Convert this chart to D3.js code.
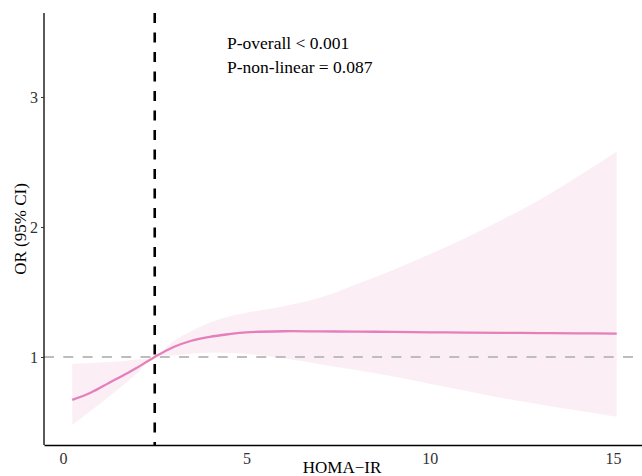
<!DOCTYPE html>
<html>
<head>
<meta charset="utf-8">
<script src="https://cdn.jsdelivr.net/npm/d3@7"></script>
<style>
  body { margin: 0; background: #fff; }
  svg { display: block; }
  text { font-family: "Liberation Serif", "DejaVu Serif", serif; }
</style>
</head>
<body>
<script>
// HOMA-IR values and the fitted odds ratio with its 95% CI
var homa  = [0.25, 0.75, 1.25, 1.75, 2.0, 2.5, 3.0, 3.5, 4.0, 4.5, 5.0, 6.0, 7.0, 8.0, 9.0, 10.0, 11.0, 12.0, 13.0, 14.0, 15.1];
var orFit = [0.67, 0.725, 0.80, 0.875, 0.915, 1.0, 1.075, 1.125, 1.155, 1.175, 1.19, 1.198, 1.197, 1.195, 1.193, 1.19, 1.188, 1.186, 1.184, 1.182, 1.18];
var ciLow = [0.477, 0.585, 0.695, 0.81, 0.87, 1.0, 1.012, 1.025, 1.032, 1.03, 1.024, 0.99, 0.945, 0.9, 0.85, 0.795, 0.738, 0.683, 0.635, 0.59, 0.54];
var ciHigh = [0.946, 0.953, 0.962, 0.972, 0.98, 1.0, 1.12, 1.2, 1.265, 1.31, 1.34, 1.39, 1.455, 1.56, 1.67, 1.79, 1.92, 2.06, 2.21, 2.38, 2.58];
var refX = 2.5;
var xTicks = [0, 5, 10, 15];
var yTicks = [1, 2, 3];
var pTexts = ["P-overall < 0.001", "P-non-linear = 0.087"];

var width = 642, height = 476;
var plotLeft = 44, plotTop = 13, plotBottom = 445;

var svg = d3.select("body").append("svg").attr("width", width).attr("height", height);

var x = d3.scaleLinear().domain([-0.52, 15.79]).range([plotLeft, width]);
var y = d3.scaleLinear().domain([0.323, 3.646]).range([plotBottom, plotTop]);

var rows = homa.map(function(d, i){ return {x: d, fit: orFit[i], lo: ciLow[i], hi: ciHigh[i]}; });
var smooth = d3.curveCatmullRom.alpha(0.5);

// confidence band
svg.append("path")
      .datum(rows)
      .attr("d", d3.area()
            .curve(smooth)
            .x(function(d){ return x(d.x); })
            .y0(function(d){ return y(d.lo); })
            .y1(function(d){ return y(d.hi); }))
      .attr("fill", "#fbeff5");

// reference line at OR = 1
svg.append("line")
      .attr("x1", plotLeft)
      .attr("x2", width)
      .attr("y1", y(1))
      .attr("y2", y(1))
      .attr("stroke", "#bdbdbd")
      .attr("stroke-width", 1.9)
      .attr("stroke-dasharray", "10,9.3");

// fitted curve
svg.append("path")
      .datum(rows)
      .attr("d", d3.line()
            .curve(smooth)
            .x(function(d){ return x(d.x); })
            .y(function(d){ return y(d.fit); }))
      .attr("fill", "none")
      .attr("stroke", "#e57fbc")
      .attr("stroke-width", 2.3);

// cut-off line
svg.append("line")
      .attr("x1", x(refX))
      .attr("x2", x(refX))
      .attr("y1", plotTop)
      .attr("y2", plotBottom)
      .attr("stroke", "#000")
      .attr("stroke-width", 2.6)
      .attr("stroke-dasharray", "10,9.5");

// axes
var xAxis = svg.append("g")
      .attr("transform", "translate(0," + plotBottom + ")")
      .call(d3.axisBottom(x).tickValues(xTicks).tickSize(0).tickPadding(8));
xAxis.select(".domain").attr("stroke", "#000").attr("stroke-width", 1.3);

var yAxis = svg.append("g")
      .attr("transform", "translate(" + plotLeft + ",0)")
      .call(d3.axisLeft(y).tickValues(yTicks).tickFormat(d3.format("d")).tickSize(3).tickPadding(3));
yAxis.select(".domain").attr("stroke", "#000").attr("stroke-width", 1.3).attr("d", "M0," + plotTop + "V" + plotBottom);

svg.selectAll(".tick text")
      .style("font-family", "Liberation Serif")
      .style("font-size", "16px")
      .attr("fill", "#333");
svg.selectAll(".tick line").attr("stroke", "#333");

// axis titles
svg.append("text")
      .text("HOMA\u2212IR")
      .attr("x", 342)
      .attr("y", 473)
      .attr("text-anchor", "middle")
      .style("font-size", "17px")
      .attr("fill", "#000");

svg.append("text")
      .text("OR (95% CI)")
      .attr("transform", "translate(26," + ((plotTop + plotBottom) / 2) + ") rotate(-90)")
      .attr("text-anchor", "middle")
      .style("font-size", "17px")
      .attr("fill", "#000");

// p-values
svg.append("text").selectAll("tspan")
      .data(pTexts)
      .enter().append("tspan")
      .text(function(d){ return d; })
      .attr("x", 227)
      .attr("y", function(d, i){ return 48.5 + 24.7 * i; })
      .style("font-size", "17.5px")
      .attr("fill", "#000");
</script>
</body>
</html>
